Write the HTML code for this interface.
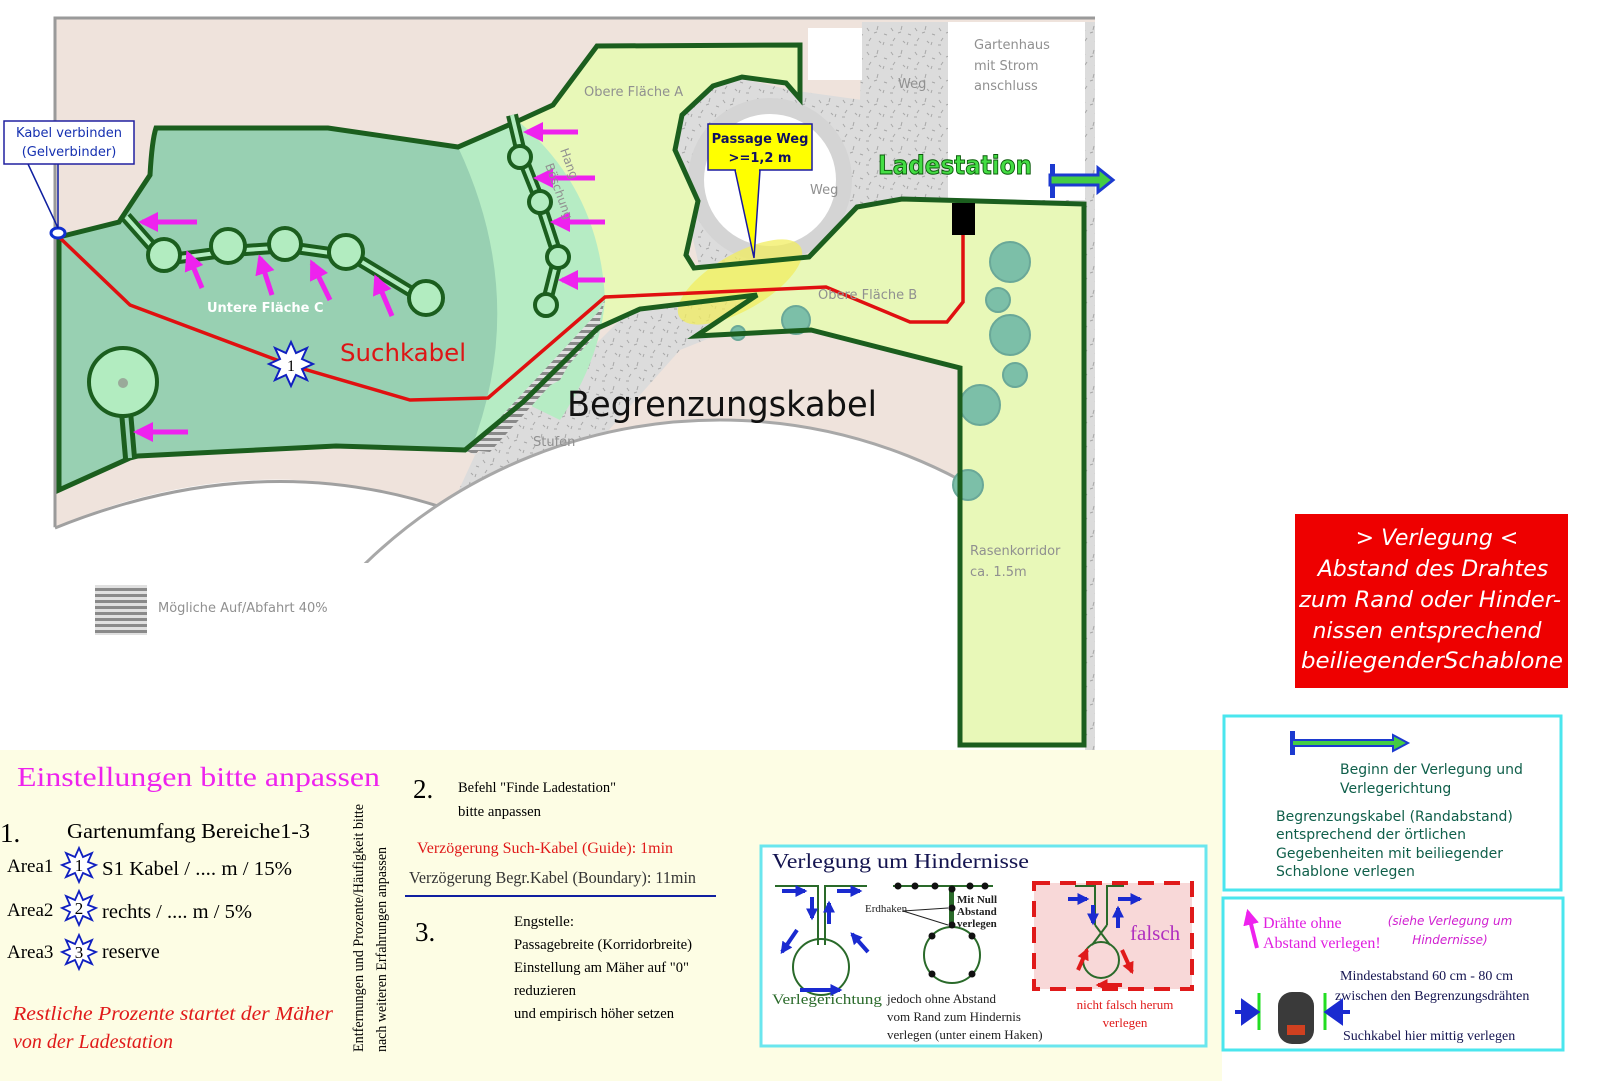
<!DOCTYPE html>
<html><head><meta charset="utf-8"><style>
html,body{margin:0;padding:0;background:#fff;width:1600px;height:1081px;overflow:hidden}
svg{display:block}
.s{font-family:"DejaVu Sans","Liberation Sans",sans-serif}
.t{font-family:"Liberation Serif",serif}
</style></head><body>
<svg width="1600" height="1081" viewBox="0 0 1600 1081" xmlns="http://www.w3.org/2000/svg">
<defs>
<pattern id="hat" width="8" height="6" patternUnits="userSpaceOnUse"><rect width="8" height="6" fill="#e0e0e0"/><rect width="8" height="3" fill="#8a8a8a"/></pattern>
<pattern id="grav" width="24" height="24" patternUnits="userSpaceOnUse"><rect width="24" height="24" fill="#dcdcdc"/><path d="M3 4l2 3M14 2l-1 4M20 10l3 1M7 14l-2 3M15 17l2 2M10 9l3 -1M2 21l3 0M19 21l1 -3" stroke="#a8a8a8" stroke-width="1"/></pattern>
<marker id="mh" viewBox="0 0 10 10" refX="8" refY="5" markerWidth="4" markerHeight="4" orient="auto"><path d="M0 0L10 5L0 10z" fill="#ee22ee"/></marker>
<marker id="bh" viewBox="0 0 10 10" refX="8" refY="5" markerWidth="3" markerHeight="3" orient="auto"><path d="M0 0L10 5L0 10z" fill="#1a2ad0"/></marker>
<marker id="rh" viewBox="0 0 10 10" refX="8" refY="5" markerWidth="3" markerHeight="3" orient="auto"><path d="M0 0L10 5L0 10z" fill="#e01a1a"/></marker>
<clipPath id="mapclip"><rect x="55" y="18" width="905" height="545"/></clipPath>
</defs>

<!-- map frame beige -->
<path d="M55 18 H1095 V560 H960 V480 L55 560 Z" fill="#efe3dc"/>
<path d="M55 560 V18 H1095" fill="none" stroke="#9a9a9a" stroke-width="3"/>
<!-- bottom left white curve -->
<path d="M52 528 Q260 440 450 512 L470 565 H52 Z" fill="#fff"/>
<path d="M55 528 Q260 445 450 510" fill="none" stroke="#a0a0a0" stroke-width="3"/>
<!-- gravel -->
<path d="M862 22 H1095 V750 H1085 V205 L900 200 L860 212 L808 262 L700 272 L640 300 L600 340 L540 400 L475 455 L445 520 L480 545 L530 495 L600 440 L680 350 L730 330 L800 330 L860 300 L860 100 Z" fill="url(#grav)"/>
<path d="M660 95 L700 85 L740 78 L790 90 L862 100 L862 200 L820 250 L700 270 Z" fill="url(#grav)"/>
<!-- white disc lower -->
<g clip-path="url(#mapclip)">
<circle cx="720" cy="930" r="510" fill="#fff" stroke="#a8a8a8" stroke-width="3"/>
</g>
<!-- Gartenhaus / white rects -->
<rect x="948" y="22" width="137" height="178" fill="#fff"/>
<rect x="808" y="28" width="54" height="52" fill="#fff"/>
<!-- ring around white circle -->
<circle cx="770" cy="180" r="82" fill="#d4d4d4"/>
<circle cx="770" cy="180" r="66" fill="#fff"/>

<!-- lower yellow band -->
<rect x="0" y="750" width="1222" height="331" fill="#fdfde4"/>

<!-- main lawn polygon -->
<path d="M59 237 L119 222 L150 175 Q152 140 156 128 L328 128 L458 147 L518 121 L553 105 L597 46 L800 45 L800 99 L786 83 L742 77 L713 86 L682 115 L675 150 L698 201 L686 255 L694 268 L809 257 L857 207 L902 199 L1084 204 L1084 745 L960 745 L960 368 L811 330 L696 336 L757 295 L640 309 L598 328 L523 402 L465 450 L466 452 L336 446 L138 456 L59 490 Z" fill="#e8f8b8"/>
<!-- mint band -->
<path d="M458 147 L518 121 Q600 190 605 300 Q600 360 560 420 L523 402 L470 450 Q500 300 458 147 Z" fill="#b6ecc4"/>
<!-- teal C -->
<path d="M59 237 L119 222 L150 175 Q152 140 156 128 L328 128 L458 147 Q530 300 470 452 L336 446 L138 456 L59 490 Z" fill="#98d0b2"/>
<!-- hatched ramp -->
<path d="M605 300 L598 328 L523 402 L465 450 L475 455 Q520 400 560 380 Z" fill="url(#hat)"/>
<path d="M600 310 L470 450 L490 452 L600 330 Z" fill="url(#hat)"/>
<!-- yellow blob -->
<ellipse cx="740" cy="282" rx="70" ry="28" transform="rotate(-30 740 282)" fill="#f2ee60" opacity="0.75"/>
<!-- bushes -->
<g fill="#7cbfa8" stroke="#6aa898" stroke-width="2">
<circle cx="1010" cy="262" r="20"/><circle cx="998" cy="300" r="12"/><circle cx="1010" cy="335" r="20"/><circle cx="1015" cy="375" r="12"/><circle cx="980" cy="405" r="20"/><circle cx="968" cy="485" r="15"/><circle cx="796" cy="320" r="14"/><circle cx="738" cy="333" r="7"/>
</g>
<!-- boundary outline -->
<path d="M59 237 L119 222 L150 175 Q152 140 156 128 L328 128 L458 147 L518 121 L553 105 L597 46 L800 45 L800 99 L786 83 L742 77 L713 86 L682 115 L675 150 L698 201 L686 255 L694 268 L809 257 L857 207 L902 199 L1084 204 L1084 745 L960 745 L960 368 L811 330 L696 336 L757 295 L640 309 L598 328 L523 402 L465 450 L336 446 L138 456 L130 458 L59 490 Z" fill="none" stroke="#1b5e1e" stroke-width="5" stroke-linejoin="miter"/>

<!-- tree line C -->
<g stroke="#1b5e1e" fill="#b2ecc0" stroke-width="4">
<path d="M126 217 L164 260 L231 251 L288 247 L352 256 L433 305" fill="none" stroke-width="12"/>
<path d="M126 217 L164 260 L231 251 L288 247 L352 256 L433 305" fill="none" stroke="#b2ecc0" stroke-width="4"/>
<circle cx="164" cy="255" r="16"/><circle cx="228" cy="246" r="17"/><circle cx="285" cy="244" r="16"/><circle cx="346" cy="252" r="17"/><circle cx="426" cy="298" r="17"/>
<path d="M512 115 L522 157 L540 202 L558 257 L546 305" fill="none" stroke-width="12"/>
<path d="M512 115 L522 157 L540 202 L558 257 L546 305" fill="none" stroke="#b2ecc0" stroke-width="4"/>
<circle cx="520" cy="157" r="11"/><circle cx="540" cy="202" r="11"/><circle cx="558" cy="257" r="11"/><circle cx="546" cy="305" r="11"/>
<path d="M125 400 L130 458" fill="none" stroke-width="14"/>
<path d="M125 400 L130 458" fill="none" stroke="#98d0b2" stroke-width="4"/>
<circle cx="123" cy="382" r="34"/>
</g>
<circle cx="123" cy="383" r="5" fill="#9aaa9a"/>

<!-- magenta arrows -->
<g stroke="#ee22ee" stroke-width="5" marker-end="url(#mh)">
<line x1="197" y1="222" x2="142" y2="222"/><line x1="578" y1="132" x2="527" y2="132"/><line x1="595" y1="178" x2="537" y2="178"/><line x1="605" y1="222" x2="554" y2="222"/><line x1="605" y1="280" x2="562" y2="280"/><line x1="188" y1="432" x2="137" y2="432"/>
<line x1="202" y1="288" x2="188" y2="254"/><line x1="272" y1="295" x2="260" y2="258"/><line x1="330" y1="300" x2="312" y2="263"/><line x1="392" y1="316" x2="376" y2="278"/>
</g>

<!-- red Suchkabel -->
<path d="M59 237 L130 305 L290 365 L410 400 L488 398 L605 297 L826 287 L910 322 L947 322 L963 302 L963 225" fill="none" stroke="#e01010" stroke-width="3.5"/>
<rect x="952" y="203" width="23" height="32" fill="#000"/>
<polygon points="291,342 296,353 307,348 302,359 313,364 302,369 307,380 296,375 291,386 286,375 275,380 280,369 269,364 280,359 275,348 286,353" fill="#fff" stroke="#1020c0" stroke-width="2"/>
<text x="291" y="371" class="t" font-size="16" text-anchor="middle">1</text>
<ellipse cx="58" cy="233" rx="7" ry="5" fill="#fff" stroke="#1030d0" stroke-width="3"/>
<path d="M28 164 L58 228 M58 164 V228" stroke="#1020a0" stroke-width="1.5" fill="none"/>
<rect x="4" y="121" width="130" height="43" fill="#fff" stroke="#2020a0" stroke-width="1.5"/>
<text class="s" font-size="13" fill="#1530b0" text-anchor="middle"><tspan x="69" y="137">Kabel verbinden</tspan><tspan x="69" y="156">(Gelverbinder)</tspan></text>

<!-- passage callout -->
<path d="M735 170 L754 258 L760 170 Z" fill="#ffff00" stroke="#1a1aa0" stroke-width="1.5"/>
<rect x="708" y="124" width="104" height="46" fill="#ffff00" stroke="#1a1aa0" stroke-width="1.5"/>
<rect x="736" y="168" width="23" height="4" fill="#ffff00"/>
<text class="s" font-size="13" fill="#101060" font-weight="bold" text-anchor="middle"><tspan x="760" y="143">Passage Weg</tspan><tspan x="760" y="162">&gt;=1,2 m</tspan></text>

<!-- labels -->
<text x="878" y="174" class="s" font-size="26" font-weight="bold" fill="#44dd44" stroke="#0a5a0a" stroke-width="1" textLength="154" lengthAdjust="spacingAndGlyphs">Ladestation</text>
<rect x="1050" y="164" width="5" height="34" fill="#1c3ad0"/>
<path d="M1050 175 H1098 V168 L1113 180 L1098 192 V185 H1050 Z" fill="#44cc44" stroke="#1c3ad0" stroke-width="3"/>
<text x="567" y="416" class="s" font-size="35" fill="#111" textLength="310" lengthAdjust="spacingAndGlyphs">Begrenzungskabel</text>
<text x="340" y="361" class="s" font-size="24" fill="#dd1515" textLength="126" lengthAdjust="spacingAndGlyphs">Suchkabel</text>
<text x="207" y="312" class="s" font-size="13" font-weight="bold" fill="#fff">Untere Fläche C</text>
<g class="s" font-size="13" fill="#909090">
<text x="584" y="96">Obere Fläche A</text>
<text x="818" y="299">Obere Fläche B</text>
<text x="898" y="88">Weg</text>
<text x="810" y="194">Weg</text>
<text x="533" y="446">Stufen</text>
<text x="974" y="49">Gartenhaus</text><text x="974" y="70">mit Strom</text><text x="974" y="90">anschluss</text>
<text x="970" y="555">Rasenkorridor</text><text x="970" y="576">ca. 1.5m</text>
<text x="158" y="612">Mögliche Auf/Abfahrt 40%</text>
<text x="560" y="150" transform="rotate(70 560 150)" font-size="12">Hang</text>
<text x="545" y="165" transform="rotate(70 545 165)" font-size="12">Böschung</text>
</g>
<rect x="95" y="585" width="52" height="50" fill="url(#hat)"/>

<!-- red box -->
<rect x="1295" y="514" width="273" height="174" fill="#ee0000"/>
<g class="s" font-size="22" font-style="italic" fill="#fff" text-anchor="middle">
<text x="1437" y="545">&gt; Verlegung &lt;</text>
<text x="1433" y="576">Abstand des Drahtes</text>
<text x="1430" y="607" textLength="262" lengthAdjust="spacingAndGlyphs">zum Rand oder Hinder-</text>
<text x="1427" y="638">nissen entsprechend</text>
<text x="1432" y="668" textLength="262" lengthAdjust="spacingAndGlyphs">beiliegenderSchablone</text>
</g>

<!-- settings text -->
<g class="t">
<text x="17" y="786" font-size="27" fill="#ee22ee" textLength="363" lengthAdjust="spacingAndGlyphs">Einstellungen bitte anpassen</text>
<text x="0" y="842" font-size="27">1.</text>
<text x="67" y="838" font-size="21" textLength="243" lengthAdjust="spacingAndGlyphs">Gartenumfang Bereiche1-3</text>
<text x="7" y="872" font-size="19">Area1</text>
<text x="102" y="875" font-size="20" textLength="190" lengthAdjust="spacingAndGlyphs">S1 Kabel / .... m / 15%</text>
<text x="7" y="916" font-size="19">Area2</text>
<text x="102" y="918" font-size="20" textLength="150" lengthAdjust="spacingAndGlyphs">rechts / .... m / 5%</text>
<text x="7" y="958" font-size="19">Area3</text>
<text x="102" y="958" font-size="20">reserve</text>
<text x="13" y="1020" font-size="20" font-style="italic" fill="#e01a1a" textLength="320" lengthAdjust="spacingAndGlyphs">Restliche Prozente  startet der Mäher</text>
<text x="13" y="1048" font-size="20" font-style="italic" fill="#e01a1a">von der Ladestation</text>
<text transform="translate(363 1052) rotate(-90)" font-size="15" textLength="248" lengthAdjust="spacingAndGlyphs">Entfernungen und Prozente/Häufigkeit bitte</text>
<text transform="translate(386 1052) rotate(-90)" font-size="15" textLength="205" lengthAdjust="spacingAndGlyphs">nach weiteren Erfahrungen anpassen</text>
<text x="413" y="798" font-size="27">2.</text>
<text x="458" y="792" font-size="15" textLength="158" lengthAdjust="spacingAndGlyphs">Befehl "Finde Ladestation"</text>
<text x="458" y="816" font-size="15" textLength="83" lengthAdjust="spacingAndGlyphs">bitte anpassen</text>
<text x="417" y="853" font-size="16" fill="#e01a1a" textLength="256" lengthAdjust="spacingAndGlyphs">Verzögerung Such-Kabel (Guide): 1min</text>
<text x="409" y="883" font-size="17" fill="#333" textLength="287" lengthAdjust="spacingAndGlyphs">Verzögerung Begr.Kabel (Boundary): 11min</text>
<text x="415" y="941" font-size="27">3.</text>
<g font-size="15">
<text x="514" y="926" textLength="60" lengthAdjust="spacingAndGlyphs">Engstelle:</text>
<text x="514" y="949" textLength="178" lengthAdjust="spacingAndGlyphs">Passagebreite (Korridorbreite)</text>
<text x="514" y="972" textLength="175" lengthAdjust="spacingAndGlyphs">Einstellung am Mäher auf "0"</text>
<text x="514" y="995" textLength="62" lengthAdjust="spacingAndGlyphs">reduzieren</text>
<text x="514" y="1018" textLength="160" lengthAdjust="spacingAndGlyphs">und empirisch höher setzen</text>
</g>
</g>
<line x1="405" y1="896" x2="716" y2="896" stroke="#1020a0" stroke-width="2"/>
<g fill="#fff" stroke="#1020c0" stroke-width="1.8">
<polygon transform="translate(79 865)" points="0,-17 4,-8 13,-12 9,-3 17,0 9,4 13,12 4,8 0,17 -4,8 -13,12 -9,4 -17,0 -9,-3 -13,-12 -4,-8"/>
<polygon transform="translate(79 908)" points="0,-17 4,-8 13,-12 9,-3 17,0 9,4 13,12 4,8 0,17 -4,8 -13,12 -9,4 -17,0 -9,-3 -13,-12 -4,-8"/>
<polygon transform="translate(79 952)" points="0,-17 4,-8 13,-12 9,-3 17,0 9,4 13,12 4,8 0,17 -4,8 -13,12 -9,4 -17,0 -9,-3 -13,-12 -4,-8"/>
</g>
<g class="t" font-size="17" text-anchor="middle"><text x="79" y="871">1</text><text x="79" y="914">2</text><text x="79" y="958">3</text></g>

<!-- Hindernisse box -->
<rect x="761" y="846" width="445" height="200" fill="#fff" stroke="#6ae6ee" stroke-width="3"/>
<text x="772" y="868" class="t" font-size="21" fill="#141450" textLength="257" lengthAdjust="spacingAndGlyphs">Verlegung um Hindernisse</text>
<rect x="1034" y="883" width="158" height="106" fill="#f8d8d8" stroke="#e01a1a" stroke-width="4" stroke-dasharray="16 10"/>
<g fill="none" stroke="#2a6a2a" stroke-width="2">
<path d="M775 886 H818 V945 M825 945 V886 H867"/>
<circle cx="821" cy="967" r="28"/>
<path d="M893 886 H993 M952 886 V928"/>
<circle cx="952" cy="955" r="28"/>
<path d="M1075 886 H1095 V925 M1107 925 V886 H1124"/>
<path d="M1095 925 L1110 945 M1107 925 L1092 945"/>
<circle cx="1101" cy="960" r="18"/>
</g>
<rect x="949" y="888" width="5" height="38" fill="#2a6a2a"/>
<g fill="#111"><circle cx="898" cy="886" r="3.5"/><circle cx="915" cy="886" r="3.5"/><circle cx="935" cy="886" r="3.5"/><circle cx="970" cy="886" r="3.5"/><circle cx="985" cy="886" r="3.5"/><circle cx="952" cy="889" r="3.5"/><circle cx="952" cy="908" r="3.5"/><circle cx="952" cy="925" r="3.5"/><circle cx="932" cy="936" r="3.5"/><circle cx="972" cy="936" r="3.5"/><circle cx="932" cy="974" r="3.5"/><circle cx="972" cy="974" r="3.5"/></g>
<g class="t" font-size="11" font-weight="bold" fill="#222"><text x="957" y="903">Mit Null</text><text x="957" y="915">Abstand</text><text x="957" y="927">verlegen</text><text x="865" y="912" font-weight="normal">Erdhaken</text></g>
<path d="M903 911 L948 908 M903 911 L948 925" stroke="#222" stroke-width="1" fill="none"/>
<g stroke="#1a2ad0" stroke-width="4">
<line x1="782" y1="891" x2="805" y2="891" marker-end="url(#bh)"/><line x1="837" y1="891" x2="860" y2="891" marker-end="url(#bh)"/><line x1="812" y1="897" x2="812" y2="918" marker-end="url(#bh)"/><line x1="829" y1="924" x2="829" y2="903" marker-end="url(#bh)"/>
<line x1="797" y1="930" x2="782" y2="952" marker-end="url(#bh)"/><line x1="868" y1="952" x2="852" y2="934" marker-end="url(#bh)"/><line x1="800" y1="990" x2="840" y2="990" marker-end="url(#bh)"/>
<line x1="1068" y1="899" x2="1087" y2="899" marker-end="url(#bh)"/><line x1="1118" y1="899" x2="1140" y2="899" marker-end="url(#bh)"/><line x1="1093" y1="905" x2="1093" y2="923" marker-end="url(#bh)"/><line x1="1118" y1="928" x2="1118" y2="908" marker-end="url(#bh)"/>
</g>
<g stroke="#e01a1a" stroke-width="4"><line x1="1078" y1="970" x2="1087" y2="950" marker-end="url(#rh)"/><line x1="1122" y1="950" x2="1132" y2="972" marker-end="url(#rh)"/><line x1="1122" y1="985" x2="1098" y2="985" marker-end="url(#rh)"/></g>
<text x="1130" y="940" class="t" font-size="21" fill="#b030c0">falsch</text>
<g class="t" font-size="13">
<text x="772" y="1004" fill="#2a6a2a" font-size="15" textLength="110" lengthAdjust="spacingAndGlyphs">Verlegerichtung</text>
<text x="887" y="1003" fill="#222">jedoch ohne Abstand</text>
<text x="887" y="1021" fill="#222">vom Rand zum Hindernis</text>
<text x="887" y="1039" fill="#222">verlegen (unter einem Haken)</text>
<text x="1125" y="1009" fill="#e01a1a" text-anchor="middle">nicht falsch herum</text>
<text x="1125" y="1027" fill="#e01a1a" text-anchor="middle">verlegen</text>
</g>

<!-- right boxes -->
<rect x="1224" y="716" width="337" height="174" fill="#fff" stroke="#4ae6ee" stroke-width="3"/>
<rect x="1290" y="731" width="5" height="24" fill="#1c3ad0"/>
<path d="M1292 740 H1393 V735 L1408 743 L1393 751 V746 H1292 Z" fill="#44cc44" stroke="#1c3ad0" stroke-width="2"/>
<g class="s" font-size="14" fill="#0f5f4a">
<text x="1340" y="774">Beginn der Verlegung und</text>
<text x="1340" y="793">Verlegerichtung</text>
<text x="1276" y="821">Begrenzungskabel (Randabstand)</text>
<text x="1276" y="839">entsprechend der örtlichen</text>
<text x="1276" y="858">Gegebenheiten mit beiliegender</text>
<text x="1276" y="876">Schablone verlegen</text>
</g>
<rect x="1223" y="898" width="340" height="152" fill="#fff" stroke="#4ae6ee" stroke-width="3"/>
<line x1="1257" y1="948" x2="1248" y2="912" stroke="#ee22ee" stroke-width="4" marker-end="url(#mh)"/>
<g class="t" font-size="16" fill="#e020e0"><text x="1263" y="928">Drähte ohne</text><text x="1263" y="948">Abstand verlegen!</text></g>
<g class="s" font-size="12" font-style="italic" fill="#d020d0" text-anchor="middle"><text x="1450" y="925">(siehe Verlegung um</text><text x="1450" y="944">Hindernisse)</text></g>
<g class="t" font-size="14" fill="#141450">
<text x="1340" y="980">Mindestabstand 60 cm - 80 cm</text>
<text x="1335" y="1000">zwischen den Begrenzungsdrähten</text>
<text x="1343" y="1040">Suchkabel hier mittig verlegen</text>
</g>
<line x1="1259" y1="993" x2="1259" y2="1030" stroke="#22dd22" stroke-width="3"/>
<line x1="1325" y1="993" x2="1325" y2="1030" stroke="#22dd22" stroke-width="3"/>
<g stroke="#1a2ad0" stroke-width="4" fill="#1a2ad0">
<line x1="1235" y1="1012" x2="1248" y2="1012"/><path d="M1243 1002 L1257 1012 L1243 1022 Z"/>
<line x1="1350" y1="1012" x2="1336" y2="1012"/><path d="M1341 1002 L1327 1012 L1341 1022 Z"/>
</g>
<rect x="1278" y="992" width="36" height="52" rx="14" fill="#3a3a3a"/>
<rect x="1287" y="1025" width="18" height="10" fill="#d04020"/>
</svg>
</body></html>
